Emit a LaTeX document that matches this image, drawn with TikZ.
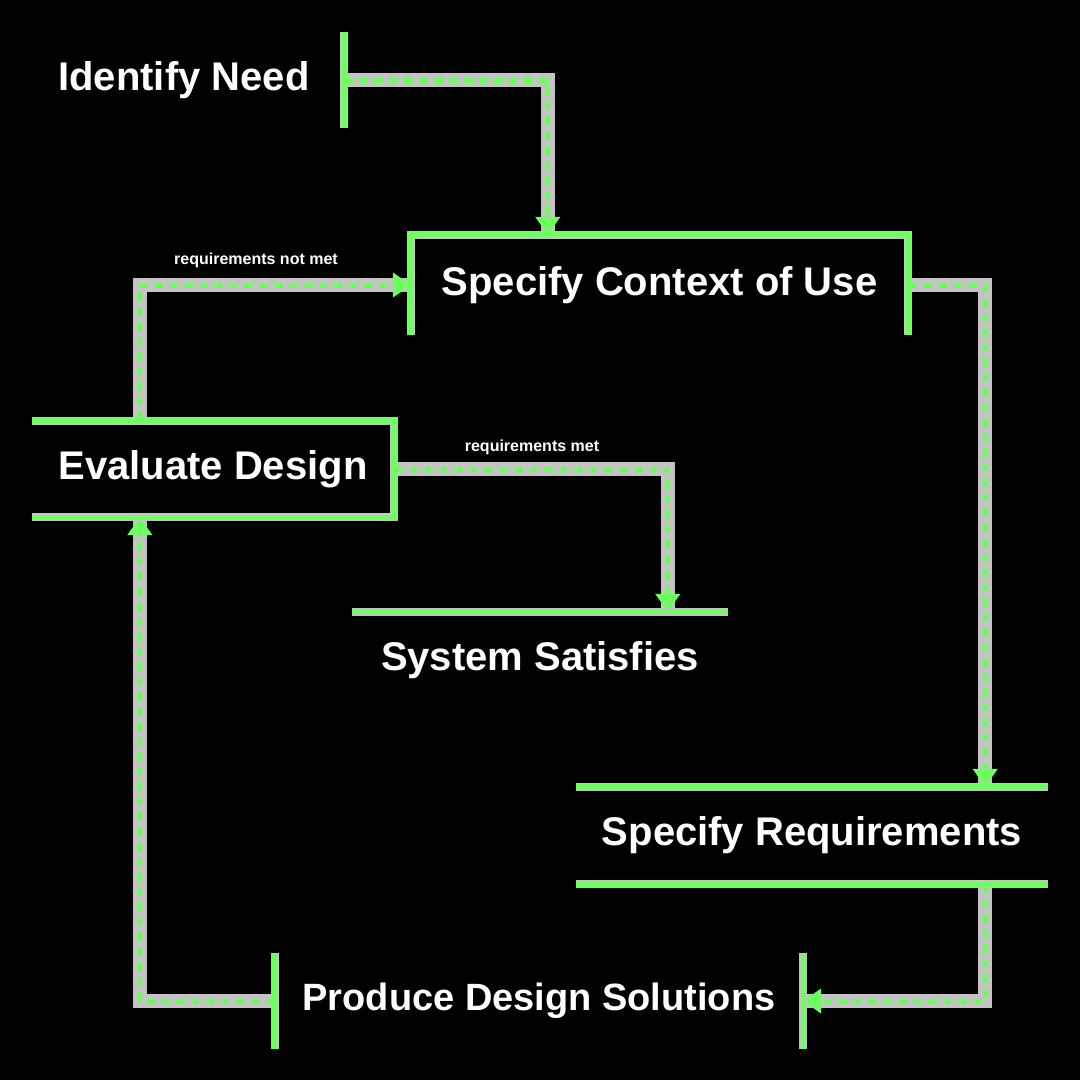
\documentclass[tikz,border=0pt]{standalone}
\usepackage{fontspec}
\setmainfont{Liberation Sans}
\usetikzlibrary{arrows.meta,calc}
\definecolor{lg}{HTML}{6CFF5E}
\definecolor{sh}{HTML}{C4C4C4}
\begin{document}
\begin{tikzpicture}[x=1pt,y=-1pt,
  box/.style={draw=none, inner sep=0pt, minimum height=96pt,
    font=\fontsize{40}{48}\selectfont\bfseries, text=white},
  lab/.style={inner sep=0pt, font=\fontsize{16}{19}\selectfont\bfseries, text=white},
  bord/.style={draw=lg, line width=5pt, preaction={draw=sh, line width=8pt}},
  flow/.style={draw=lg, line width=5pt, dash pattern=on 9pt off 6pt,
    preaction={draw=sh, line width=14pt, solid, -},
    -{Triangle[length=18pt,width=24pt]}}]
\fill[black] (0,0) rectangle (1080,1080);
\useasboundingbox (0,0) rectangle (1080,1080);

\node[box, minimum width=320pt] (need) at (184,80) {Identify Need};
\node[box, minimum width=497pt, minimum height=100pt] (ctx) at (659.5,285) {Specify Context of Use};
\node[box, minimum width=362pt] (eval) at (213,469) {Evaluate Design};
\node[box, minimum width=376pt] (sys) at (540,660) {System Satisfies};
\node[box, minimum width=472pt, minimum height=97pt] (req) at (812,835.5) {Specify Requirements};
\node[box, minimum width=528pt, font=\fontsize{38}{46}\selectfont\bfseries] (prod) at (539,1001) {Produce Design Solutions};

\node[lab] (l1) at (256,260) {requirements not met};
\node[lab] (l2) at (532,447) {requirements met};

\draw[flow] (need.east) -| ($(ctx.north west)+(137,0)$);
\draw[flow] (ctx.east) -| ($(req.north east)+(-63,0)$);
\draw[flow] ($(req.south east)+(-63,0)$) |- (prod.east);
\draw[flow] (prod.west) -| ($(eval.south west)+(108,0)$);
\draw[flow] ($(eval.north west)+(108,0)$) |- (ctx.west);
\draw[flow] (eval.east) -| ($(sys.north west)+(316,0)$);

\draw[bord] (need.north east) -- (need.south east);
\draw[bord] (ctx.south west) -- (ctx.north west) -- (ctx.north east) -- (ctx.south east);
\draw[bord] (eval.north west) -- (eval.north east) -- (eval.south east) -- (eval.south west);
\draw[bord] (sys.north west) -- (sys.north east);
\draw[bord] (req.north west) -- (req.north east);
\draw[bord] (req.south west) -- (req.south east);
\draw[bord] (prod.north west) -- (prod.south west);
\draw[bord] (prod.north east) -- (prod.south east);
\end{tikzpicture}
\end{document}
